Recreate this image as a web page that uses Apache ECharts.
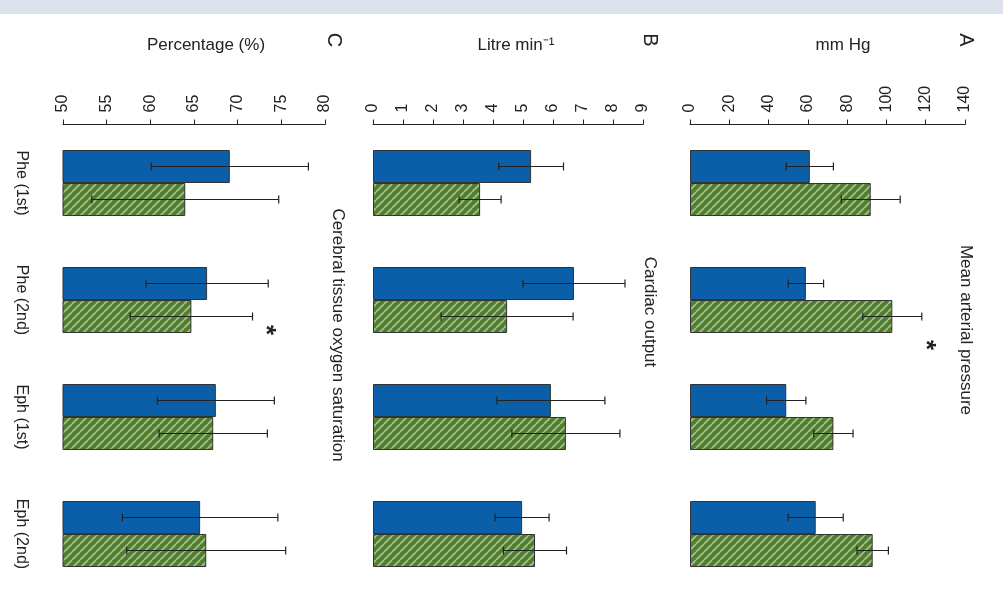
<!DOCTYPE html>
<html><head><meta charset="utf-8">
<script src="https://cdn.jsdelivr.net/npm/echarts@6/dist/echarts.min.js"></script>
<style>html,body{margin:0;padding:0;background:#fff}#c{width:1003px;height:608px}</style>
</head><body><div id="c"></div>
<script>
const categories = ['Phe (1st)', 'Phe (2nd)', 'Eph (1st)', 'Eph (2nd)'];
const mapBlue = [61, 59, 49, 64];
const mapBlueErr = [12, 9, 10, 14];
const mapGreen = [92, 103, 73, 93];
const mapGreenErr = [15, 15, 10, 8];
const coBlue = [5.27, 6.7, 5.93, 4.97];
const coBlueErr = [1.08, 1.7, 1.8, 0.9];
const coGreen = [3.57, 4.47, 6.43, 5.4];
const coGreenErr = [0.7, 2.2, 1.8, 1.05];
const ctoBlue = [69.1, 66.5, 67.5, 65.7];
const ctoBlueErr = [9, 7, 6.7, 8.9];
const ctoGreen = [64.0, 64.7, 67.2, 66.4];
const ctoGreenErr = [10.7, 7, 6.2, 9.1];

const chart = echarts.init(document.getElementById('c'));
const pc = document.createElement('canvas');
pc.width = 8; pc.height = 8;
const g = pc.getContext('2d');
g.fillStyle = '#4e7d2c'; g.fillRect(0, 0, 8, 8);
g.strokeStyle = '#9dba86'; g.lineWidth = 2;
g.beginPath();
for (let k = -8; k <= 16; k += 8) { g.moveTo(k, 8); g.lineTo(k + 8, 0); }
g.stroke();
const hatch = { image: pc, repeat: 'repeat' };

const panels = [
  { left: 690, width: 275, min: 0, max: 140, interval: 20, blue: mapBlue, be: mapBlueErr, green: mapGreen, ge: mapGreenErr },
  { left: 373, width: 270, min: 0, max: 9, interval: 1, blue: coBlue, be: coBlueErr, green: coGreen, ge: coGreenErr },
  { left: 63, width: 262, min: 50, max: 80, interval: 5, blue: ctoBlue, be: ctoBlueErr, green: ctoGreen, ge: ctoGreenErr }
];

const grid = [], xAxis = [], yAxis = [], series = [];
panels.forEach((p, i) => {
  grid.push({ left: p.left, width: p.width, top: 124.5, height: 468 });
  xAxis.push({ type: 'value', gridIndex: i, position: 'top', min: p.min, max: p.max, interval: p.interval,
    splitLine: { show: false },
    axisLine: { show: true, lineStyle: { color: '#222' } },
    axisTick: { show: true, lineStyle: { color: '#222' } },
    axisLabel: { rotate: -90, color: '#222', fontSize: 16, fontFamily: 'Liberation Sans', margin: 12 } });
  yAxis.push({ type: 'category', gridIndex: i, data: categories, inverse: true,
    axisLine: { show: false }, axisTick: { show: false },
    axisLabel: { show: i === 2, rotate: -90, color: '#222', fontSize: 16, fontFamily: 'Liberation Sans', margin: 34 } });
  const sty = { borderColor: '#333', borderWidth: 1 };
  series.push({ type: 'bar', xAxisIndex: i, yAxisIndex: i, data: p.blue, barWidth: 33, barGap: '0%',
    itemStyle: Object.assign({ color: '#0a5fa8' }, sty), silent: true });
  series.push({ type: 'bar', xAxisIndex: i, yAxisIndex: i, data: p.green, barWidth: 33, barGap: '0%',
    itemStyle: Object.assign({ color: hatch }, sty), silent: true });
  [[p.blue, p.be, -16.5], [p.green, p.ge, 16.5]].forEach(([v, e, off]) => {
    series.push({ type: 'custom', xAxisIndex: i, yAxisIndex: i, silent: true, z: 5,
      data: v.map((x, j) => [j, x, e[j]]),
      renderItem: (params, api) => {
        const a = api.coord([api.value(1) - api.value(2), api.value(0)]);
        const b = api.coord([api.value(1) + api.value(2), api.value(0)]);
        const y = a[1] + off;
        const st = { stroke: '#222', lineWidth: 1.2 };
        return { type: 'group', children: [
          { type: 'line', shape: { x1: a[0], y1: y, x2: b[0], y2: y }, style: st },
          { type: 'line', shape: { x1: a[0], y1: y - 4, x2: a[0], y2: y + 4 }, style: st },
          { type: 'line', shape: { x1: b[0], y1: y - 4, x2: b[0], y2: y + 4 }, style: st }
        ] };
      } });
  });
});

function rt(x, y, text, size, weight, rot) {
  return { type: 'text', x: x, y: y, rotation: rot === undefined ? -Math.PI / 2 : rot,
    style: { text: text, fontSize: size || 17, fontWeight: weight || 'normal', fill: '#222', fontFamily: 'Liberation Sans', align: 'center', verticalAlign: 'middle' } };
}

chart.setOption({
  animation: false,
  grid, xAxis, yAxis, series,
  graphic: [
    { type: 'rect', shape: { x: 0, y: 0, width: 1003, height: 14 }, style: { fill: '#dce3ee' } },
    rt(966, 40, 'A', 20), rt(650, 40, 'B', 20), rt(334, 40, 'C', 20),
    rt(843, 45, 'mm Hg', 17, 'normal', 0), rt(516, 45, 'Litre min⁻¹', 17, 'normal', 0), rt(206, 45, 'Percentage (%)', 17, 'normal', 0),
    rt(966, 330, 'Mean arterial pressure', 17), rt(650, 312, 'Cardiac output', 17),
    rt(338, 335, 'Cerebral tissue oxygen saturation', 17),
    rt(925, 345, '*', 26, 'bold'), rt(265, 330, '*', 26, 'bold')
  ]
});
</script></body></html>
